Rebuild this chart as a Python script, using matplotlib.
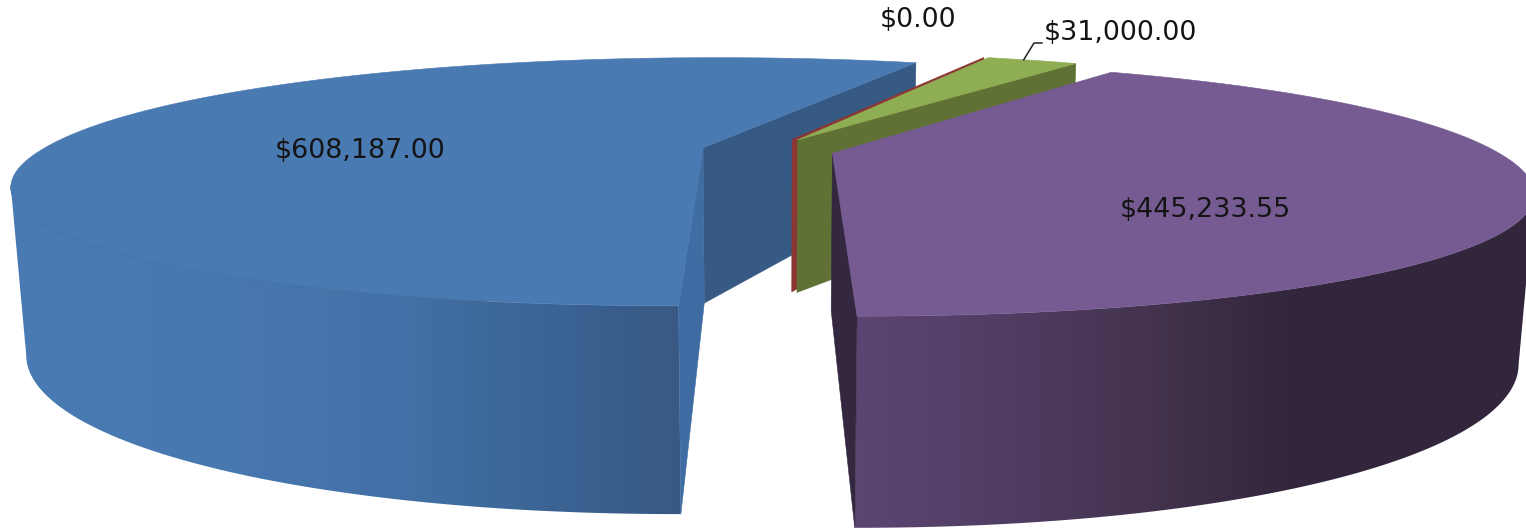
import numpy as np
import matplotlib
matplotlib.use("Agg")
import matplotlib.pyplot as plt
from matplotlib.colors import LinearSegmentedColormap
from matplotlib.patches import Polygon

# Spending per category
categories = ["A", "B", "C", "D"]
values = [608187.00, 0.00, 31000.00, 445233.55]

top_colors = ["#4a7ab2", "#8c3836", "#8fad52", "#755b91"]
cut_colors = ["#375a84", "#8c3634", "#5f7134", "#332840"]

# Perspective camera for the tilted pie, in pixels
CX, CY = 768, 150
RX, RY = 665, 116
DEPTH = 159
K_Y, K_Z = 0.275, 0.019
EXPLODE = 0.1
FIRST_ANGLE = 270.0
ROUNDNESS = 0.98
RIM_X = 0.995


def project(x, y, z):
    w = 1 + K_Y * y + K_Z * z
    return CX + RX * x / w, CY + (-RY * y + DEPTH * z) / w


def rim(center, angles, z):
    t = np.radians(angles)
    c, s = np.cos(t), np.sin(t)
    # slightly fuller than a true circle
    x = RIM_X * np.sign(c) * np.abs(c) ** ROUNDNESS
    y = np.sign(s) * np.abs(s) ** ROUNDNESS
    return np.column_stack(project(center[0] + x, center[1] + y, z))


def shaded(ax, poly, stops):
    # horizontal shading, clipped to the shape of the wall
    cmap = LinearSegmentedColormap.from_list("wall", [(x / 1526, c) for x, c in stops])
    patch = Polygon(poly, closed=True, fc="none", ec="none")
    ax.add_patch(patch)
    img = ax.imshow(np.linspace(0, 1, 1526).reshape(1, -1), cmap=cmap, vmin=0, vmax=1,
                    extent=(0, 1526, 528, 0), aspect="auto", zorder=patch.get_zorder())
    img.set_clip_path(patch)


def flat(ax, pts, color):
    ax.add_patch(Polygon(pts, closed=True, fc=color, ec=color, lw=0.4))


def outer_wall(ax, center, a0, a1, stops, side):
    # wall runs from the visible edge of each ring to the front of the slice
    angles = np.linspace(a0, a1, 300)
    top = rim(center, angles, 0)
    bottom = rim(center, angles, 1)
    pick = np.argmin if side == "left" else np.argmax
    top = top[pick(top[:, 0]):]
    bottom = bottom[pick(bottom[:, 0]):]
    shaded(ax, np.vstack([top, bottom[::-1]]), stops)


def cut_face(center, angle):
    apex_top = project(center[0], center[1], 0)
    apex_bot = project(center[0], center[1], 1)
    edge = rim(center, [angle], 0)[0]
    edge_bot = rim(center, [angle], 1)[0]
    return [apex_top, edge, edge_bot, apex_bot]


def sector(center, a0, a1):
    arc = rim(center, np.linspace(a0, a1, 300), 0)
    return np.vstack([project(center[0], center[1], 0), arc])


# slices go clockwise from the first angle
spans = np.array(values) / sum(values) * 360
ends = FIRST_ANGLE - np.cumsum(spans)
starts = ends + spans
mids = np.radians((starts + ends) / 2)
centers = [(EXPLODE * np.cos(m), EXPLODE * np.sin(m)) for m in mids]

fig = plt.figure(figsize=(15.26, 5.28), dpi=100)
ax = fig.add_axes([0, 0, 1, 1])
ax.set_xlim(0, 1526)
ax.set_ylim(528, 0)
ax.axis("off")

blue_stops = [(0, "#4a7bb4"), (220, "#4878b0"), (400, "#4370a6"), (520, "#3c6797"),
              (620, "#385d8c"), (680, "#385983"), (1526, "#385983")]
purple_stops = [(0, "#5b4572"), (858, "#5b4572"), (1000, "#503d63"), (1150, "#44344f"),
                (1290, "#32263c"), (1526, "#32263c")]

# back to front so nearer slices paint over the others
outer_wall(ax, centers[0], 170, starts[0], blue_stops, "left")
flat(ax, cut_face(centers[0], ends[0]), cut_colors[0])
flat(ax, cut_face(centers[0], starts[0]), "#3f6ca2")
flat(ax, sector(centers[0], ends[0], starts[0]), top_colors[0])
front = rim(centers[0], np.linspace(197, starts[0] - 12, 200), 0)
ax.plot(front[:, 0], front[:, 1], color="#41709f", lw=0.6)

flat(ax, cut_face(centers[1], ends[1]), cut_colors[1])
flat(ax, cut_face(centers[2], ends[2]), cut_colors[2])
flat(ax, sector(centers[2], ends[2], starts[2]), top_colors[2])

outer_wall(ax, centers[3], 40, ends[3], purple_stops, "right")
flat(ax, cut_face(centers[3], ends[3]), cut_colors[3])
flat(ax, sector(centers[3], ends[3], starts[3]), top_colors[3])

# value labels
labels = [f"${v:,.2f}" for v in values]
label_pos = [(360, 151), (918, 20), (1120, 33), (1205, 210)]
for text, (x, y) in zip(labels, label_pos):
    ax.text(x, y, text, fontsize=19.4, color="#141414", ha="center", va="center",
            family="DejaVu Sans")

# leader line for the small slice
lead = rim(centers[2], [ends[2] + 0.6 * spans[2]], 0)[0]
ax.plot([lead[0], 1034, 1042], [lead[1], 43, 43], color="#222222", lw=1.1)

ax.set_xlim(0, 1526)
ax.set_ylim(528, 0)
fig.savefig("out.png", dpi=100, facecolor="white")
